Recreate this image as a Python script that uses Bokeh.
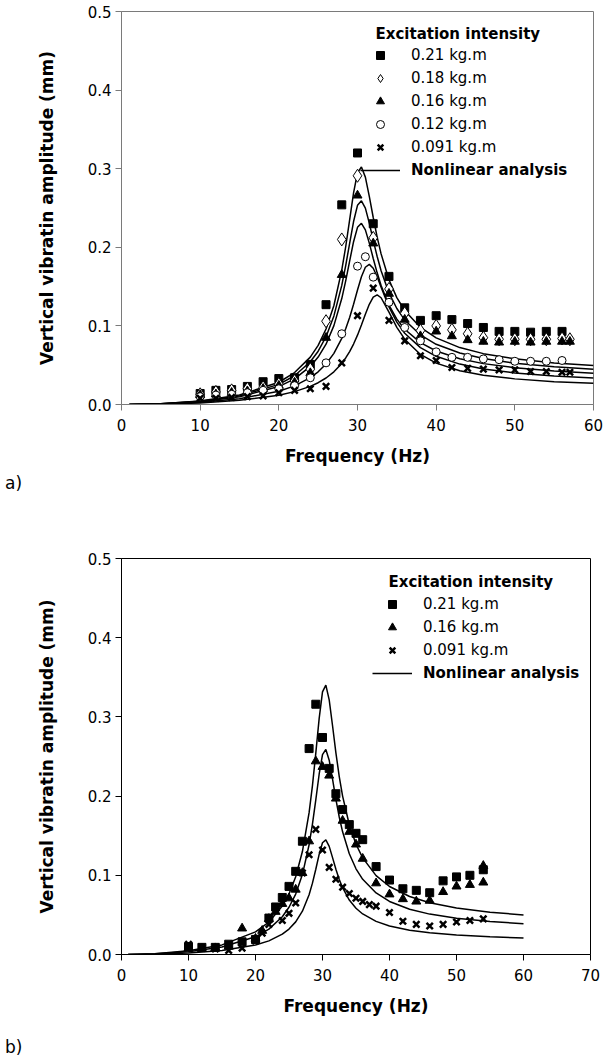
from bokeh.plotting import figure
from bokeh.models import Range1d, Label, Legend, LegendItem, NumeralTickFormatter, FixedTicker, Div
from bokeh.layouts import column
from bokeh.embed import file_html
from bokeh.resources import INLINE

# ---------------- data: panel a ----------------
fa_sq = [10, 12, 14, 16, 18, 20, 22, 24, 26, 28, 30, 32, 34, 36, 38, 40, 42, 44, 46, 48, 50, 52, 54, 56]
va_021 = [0.014, 0.018, 0.019, 0.023, 0.029, 0.033, 0.034, 0.051, 0.127, 0.254, 0.320, 0.230, 0.163, 0.123,
          0.107, 0.113, 0.108, 0.103, 0.098, 0.093, 0.093, 0.092, 0.093, 0.093]
fa_di = [10, 12, 14, 16, 18, 20, 22, 24, 26, 28, 30, 32, 34, 36, 38, 40, 42, 44, 46, 48, 50, 52, 54, 56, 57]
va_018 = [0.013, 0.016, 0.018, 0.020, 0.022, 0.026, 0.030, 0.045, 0.106, 0.210, 0.291, 0.212, 0.147, 0.116,
          0.094, 0.100, 0.095, 0.090, 0.085, 0.083, 0.083, 0.083, 0.083, 0.084, 0.083]
fa_tr = [10, 12, 14, 16, 18, 20, 22, 24, 26, 28, 30, 32, 34, 36, 38, 40, 42, 44, 46, 48, 50, 52, 54, 56, 57]
va_016 = [0.012, 0.013, 0.015, 0.017, 0.020, 0.024, 0.028, 0.040, 0.085, 0.165, 0.266, 0.205, 0.141, 0.108,
          0.087, 0.093, 0.087, 0.082, 0.080, 0.079, 0.080, 0.079, 0.080, 0.080, 0.080]
fa_ci = [10, 12, 14, 16, 18, 20, 22, 24, 26, 28, 30, 31, 32, 34, 36, 38, 40, 42, 44, 46, 48, 50, 52, 54, 56]
va_012 = [0.010, 0.012, 0.013, 0.015, 0.018, 0.020, 0.024, 0.034, 0.053, 0.090, 0.176, 0.188, 0.162, 0.130,
          0.098, 0.081, 0.067, 0.060, 0.060, 0.058, 0.057, 0.055, 0.055, 0.055, 0.056]
fa_x = [10, 12, 14, 16, 18, 20, 22, 24, 26, 28, 30, 32, 34, 36, 38, 40, 42, 44, 46, 48, 50, 52, 54, 56, 57]
va_0091 = [0.008, 0.008, 0.009, 0.010, 0.011, 0.015, 0.018, 0.020, 0.023, 0.053, 0.113, 0.148, 0.107, 0.081,
           0.062, 0.056, 0.047, 0.046, 0.045, 0.044, 0.044, 0.042, 0.042, 0.041, 0.041]

# nonlinear analysis curves
f_curve = [1, 5, 10, 15, 20, 22, 24, 25, 26, 27, 28, 28.5, 29, 29.5, 30, 30.5, 31, 31.5, 32, 32.5, 33,
           34, 35, 36, 38, 40, 43, 46, 50, 55, 60]
ca_021 = [0.0000, 0.0010, 0.0045, 0.0120, 0.0283, 0.0406, 0.0603, 0.0752, 0.0960, 0.1260, 0.1709, 0.2007,
          0.2349, 0.2692, 0.2949, 0.3021, 0.2893, 0.2648, 0.2379, 0.2130, 0.1916, 0.1588, 0.1360, 0.1196,
          0.0981, 0.0848, 0.0724, 0.0647, 0.0581, 0.0529, 0.0495]
ca_018 = [0.0000, 0.0009, 0.0041, 0.0109, 0.0256, 0.0366, 0.0544, 0.0678, 0.0862, 0.1127, 0.1515, 0.1768,
          0.2051, 0.2328, 0.2534, 0.2591, 0.2498, 0.2308, 0.2089, 0.1883, 0.1702, 0.1420, 0.1221, 0.1076,
          0.0885, 0.0766, 0.0655, 0.0585, 0.0526, 0.0479, 0.0448]
ca_016 = [0.0000, 0.0008, 0.0036, 0.0097, 0.0228, 0.0326, 0.0484, 0.0603, 0.0767, 0.1003, 0.1348, 0.1573,
          0.1825, 0.2071, 0.2254, 0.2305, 0.2222, 0.2053, 0.1858, 0.1675, 0.1514, 0.1263, 0.1086, 0.0957,
          0.0787, 0.0681, 0.0583, 0.0520, 0.0468, 0.0426, 0.0399]
ca_012 = [0.0000, 0.0007, 0.0028, 0.0073, 0.0169, 0.0237, 0.0341, 0.0416, 0.0515, 0.0651, 0.0841, 0.0963,
          0.1108, 0.1276, 0.1456, 0.1625, 0.1746, 0.1783, 0.1733, 0.1625, 0.1492, 0.1241, 0.1048, 0.0907,
          0.0724, 0.0613, 0.0514, 0.0453, 0.0402, 0.0363, 0.0338]
ca_0091 = [0.0000, 0.0005, 0.0020, 0.0053, 0.0118, 0.0164, 0.0231, 0.0277, 0.0337, 0.0416, 0.0523, 0.0592,
           0.0673, 0.0769, 0.0882, 0.1011, 0.1147, 0.1275, 0.1366, 0.1394, 0.1358, 0.1175, 0.0982, 0.0831,
           0.0637, 0.0526, 0.0429, 0.0372, 0.0326, 0.0291, 0.0269]

# ---------------- data: panel b ----------------
fb_sq = [10, 12, 14, 16, 18, 20, 22, 23, 24, 25, 26, 27, 28, 29, 30, 31, 32, 33, 34, 35, 36, 38, 40, 42, 44,
         46, 48, 50, 52, 54]
vb_021 = [0.010, 0.009, 0.009, 0.013, 0.016, 0.019, 0.046, 0.060, 0.072, 0.086, 0.105, 0.143, 0.260, 0.316,
          0.274, 0.235, 0.203, 0.183, 0.164, 0.153, 0.145, 0.111, 0.094, 0.083, 0.081, 0.078, 0.093, 0.098,
          0.100, 0.107]
fb_tr = [10, 12, 14, 16, 18, 20, 21, 22, 23, 24, 25, 26, 27, 28, 29, 30, 31, 32, 33, 34, 35, 36, 38, 40, 42,
         44, 46, 48, 50, 52, 54, 54]
vb_016 = [0.008, 0.007, 0.008, 0.010, 0.033, 0.020, 0.030, 0.045, 0.054, 0.064, 0.071, 0.082, 0.103, 0.143,
          0.244, 0.237, 0.226, 0.197, 0.169, 0.155, 0.139, 0.121, 0.090, 0.076, 0.070, 0.067, 0.068, 0.079,
          0.086, 0.088, 0.091, 0.112]
fb_x = [10, 12, 14, 16, 18, 20, 21, 22, 24, 25, 26, 27, 28, 29, 30, 31, 32, 33, 34, 35, 36, 37, 38, 40, 42,
        44, 46, 48, 50, 52, 54]
vb_0091 = [0.013, 0.008, 0.007, 0.005, 0.008, 0.017, 0.027, 0.038, 0.043, 0.052, 0.065, 0.103, 0.126, 0.158,
           0.132, 0.110, 0.095, 0.085, 0.077, 0.071, 0.067, 0.063, 0.061, 0.053, 0.042, 0.038, 0.036, 0.038,
           0.041, 0.043, 0.045]
cb_021 = [0.0000, 0.0010, 0.0046, 0.0121, 0.0286, 0.0410, 0.0612, 0.0765, 0.0981, 0.1300, 0.1791, 0.2133,
          0.2542, 0.2979, 0.3315, 0.3402, 0.3214, 0.2888, 0.2546, 0.2247, 0.2000, 0.1638, 0.1392, 0.1220,
          0.0996, 0.0859, 0.0732, 0.0654, 0.0586, 0.0534, 0.0499]
cb_016 = [0.0000, 0.0008, 0.0036, 0.0094, 0.0223, 0.0320, 0.0477, 0.0597, 0.0763, 0.1009, 0.1386, 0.1646,
          0.1953, 0.2276, 0.2524, 0.2589, 0.2453, 0.2213, 0.1960, 0.1736, 0.1549, 0.1272, 0.1082, 0.0949,
          0.0777, 0.0670, 0.0571, 0.0510, 0.0457, 0.0417, 0.0389]
cb_0091 = [0.0000, 0.0004, 0.0019, 0.0051, 0.0120, 0.0172, 0.0257, 0.0321, 0.0412, 0.0547, 0.0755, 0.0901,
           0.1076, 0.1264, 0.1411, 0.1448, 0.1365, 0.1223, 0.1076, 0.0948, 0.0843, 0.0687, 0.0584, 0.0512,
           0.0418, 0.0360, 0.0307, 0.0274, 0.0246, 0.0224, 0.0209]

y_ticks = [0.0, 0.1, 0.2, 0.3, 0.4, 0.5]
xa_ticks = [0, 10, 20, 30, 40, 50, 60]
xb_ticks = [0, 10, 20, 30, 40, 50, 60, 70]
legend_title = "Excitation intensity"
curve_label = "Nonlinear analysis"
y_title = "Vertical vibratin amplitude (mm)"
x_title = "Frequency (Hz)"
panel_tags = ["a)", "b)"]

FONT = "DejaVu Sans"


def make_fig(xmax, xticks, left, fw, right, top, fh, height, axis_color):
    p = figure(frame_width=fw, frame_height=fh, min_border_left=left, min_border_right=right,
               min_border_top=top, min_border_bottom=height - top - fh,
               x_range=Range1d(0, xmax), y_range=Range1d(0, 0.5),
               output_backend="svg", toolbar_location=None)
    p.xgrid.visible = False
    p.ygrid.visible = False
    p.outline_line_color = axis_color
    p.outline_line_width = 1
    p.background_fill_color = "white"
    p.border_fill_color = "white"
    p.xaxis.ticker = FixedTicker(ticks=xticks)
    p.yaxis.ticker = FixedTicker(ticks=y_ticks)
    p.yaxis.formatter = NumeralTickFormatter(format="0.0")
    for ax in (p.xaxis[0], p.yaxis[0]):
        ax.axis_line_color = axis_color
        ax.major_tick_line_color = axis_color
        ax.minor_tick_line_color = None
        ax.major_tick_out = 6
        ax.major_tick_in = 0
        ax.major_label_text_font = FONT
        ax.major_label_text_font_size = "15px"
        ax.major_label_text_color = "black"
        ax.axis_label_text_font = FONT
        ax.axis_label_text_font_size = "17px"
        ax.axis_label_text_font_style = "bold"
        ax.axis_label_text_color = "black"
    p.xaxis.axis_label = x_title
    p.yaxis.axis_label = y_title
    p.xaxis.major_label_standoff = 8
    p.xaxis.axis_label_standoff = 12
    p.yaxis.major_label_standoff = 4
    p.yaxis.axis_label_standoff = 28
    return p


def add_legends(p, items_sc, item_line, lx, ly_sc, ly_line, tx, ty):
    common = dict(padding=0, margin=0, spacing=3, label_standoff=11, glyph_width=40, glyph_height=20,
                  label_height=20, background_fill_alpha=0, border_line_alpha=0,
                  label_text_font=FONT, label_text_font_size="15px", label_text_color="black")
    lg1 = Legend(items=items_sc, location=(lx, ly_sc), **common)
    lg2 = Legend(items=[item_line], location=(lx, ly_line), label_text_font_style="bold", **common)
    p.add_layout(lg1)
    p.add_layout(lg2)
    p.add_layout(Label(x=tx, y=ty, x_units="screen", y_units="screen", text=legend_title,
                       text_font=FONT, text_font_size="15px", text_font_style="bold",
                       text_baseline="middle", text_color="black"))


def tag_div(text, height, pad_top, pad_left):
    return Div(text=text, width=611, height=height, margin=(0, 0, 0, 0),
               styles={"font-family": FONT, "font-size": "17px", "line-height": "20px",
                       "padding-top": f"{pad_top}px", "padding-left": f"{pad_left}px",
                       "color": "black", "box-sizing": "border-box"})


# ---------------- panel a ----------------
pa = make_fig(60, xa_ticks, 121, 472, 18, 11, 393, 472, "#7a7a7a")
lines_a = []
for cv in (ca_021, ca_018, ca_016, ca_012, ca_0091):
    lines_a.append(pa.line(f_curve, cv, line_color="black", line_width=1.5))
r1 = pa.scatter(fa_sq, va_021, marker="square", size=8, fill_color="black", line_color="black")
r2 = pa.scatter(fa_di, va_018, marker="diamond", size=13, fill_color="white", line_color="black", line_width=1)
r3 = pa.scatter(fa_tr, va_016, marker="triangle", size=9, fill_color="black", line_color="black")
r4 = pa.scatter(fa_ci, va_012, marker="circle", size=8, fill_color="white", line_color="black", line_width=1)
r5 = pa.scatter(fa_x, va_0091, marker="x", size=9, line_color="black", line_width=2.5)
add_legends(pa,
            [LegendItem(label="0.21 kg.m", renderers=[r1]), LegendItem(label="0.18 kg.m", renderers=[r2]),
             LegendItem(label="0.16 kg.m", renderers=[r3]), LegendItem(label="0.12 kg.m", renderers=[r4]),
             LegendItem(label="0.091 kg.m", renderers=[r5])],
            LegendItem(label=curve_label, renderers=[lines_a[0]]),
            239, 247, 224, 254, 371)
div_a = tag_div(panel_tags[0], 59, 1, 5)

# ---------------- panel b ----------------
pb = make_fig(70, xb_ticks, 121, 469, 21, 27, 396, 482, "black")
lines_b = []
for cv in (cb_021, cb_016, cb_0091):
    lines_b.append(pb.line(f_curve, cv, line_color="black", line_width=1.5))
s1 = pb.scatter(fb_sq, vb_021, marker="square", size=8, fill_color="black", line_color="black")
s2 = pb.scatter(fb_tr, vb_016, marker="triangle", size=9, fill_color="black", line_color="black")
s3 = pb.scatter(fb_x, vb_0091, marker="x", size=9, line_color="black", line_width=2.5)
add_legends(pb,
            [LegendItem(label="0.21 kg.m", renderers=[s1]), LegendItem(label="0.16 kg.m", renderers=[s2]),
             LegendItem(label="0.091 kg.m", renderers=[s3])],
            LegendItem(label=curve_label, renderers=[lines_b[0]]),
            251, 294, 271, 267, 373)
div_b = tag_div(panel_tags[1], 50, 19, 5)

layout = column(pa, div_a, pb, div_b, spacing=0)
open("out.html", "w").write(file_html(layout, INLINE))
